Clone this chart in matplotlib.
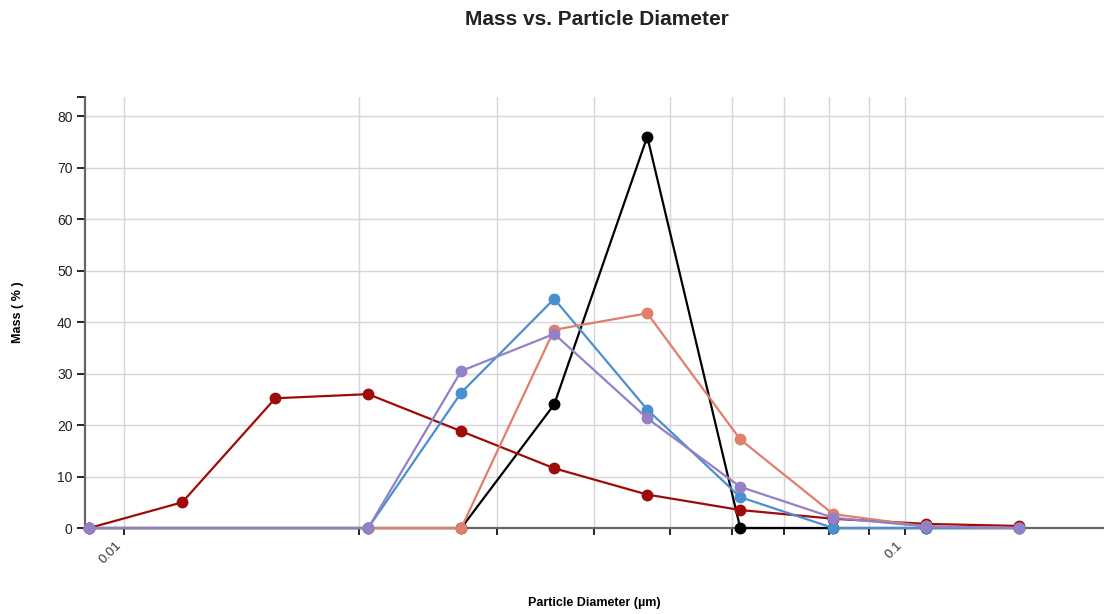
import numpy as np
import matplotlib
matplotlib.use('Agg')
import matplotlib.pyplot as plt
from matplotlib.ticker import FixedLocator, NullLocator

plt.rcParams['font.family'] = ['Liberation Sans', 'DejaVu Sans']

# particle diameter bins (um)
diam = [0.00902, 0.01187, 0.01562, 0.02054, 0.02703, 0.03556,
        0.04679, 0.06156, 0.08100, 0.1066, 0.1402]

# None = no sample in that bin (line joins the neighbours)
black = [0, None, None, 0, 0, 24.0, 76.0, 0, 0, 0, 0]
red = [0, 5.0, 25.2, 26.0, 18.8, 11.6, 6.5, 3.5, 1.8, 0.8, 0.4]
blue = [0, None, None, 0, 26.3, 44.5, 23.0, 6.0, 0, 0, 0]
salmon = [0, None, None, 0, 0, 38.5, 41.7, 17.2, 2.7, 0.3, 0]
purple = [0, None, None, 0, 30.5, 37.7, 21.3, 8.0, 2.0, 0.3, 0]

series = [(black, '#000000'), (red, '#9e0b0b'), (blue, '#4a8fd0'),
          (salmon, '#e07f6b'), (purple, '#9381c8')]

xticks = [0.01, 0.02, 0.03, 0.04, 0.05, 0.06, 0.07, 0.08, 0.09, 0.1]
xticklabels = ['0.01', '', '', '', '', '', '', '', '', '0.1']
yticks = [0, 10, 20, 30, 40, 50, 60, 70, 80]

fig = plt.figure(figsize=(11.04, 6.14), dpi=100)
ax = fig.add_axes([0.077, 0.140, 0.923, 0.702])

for vals, c in series:
    xs = [d for d, v in zip(diam, vals) if v is not None]
    ys = [v for v in vals if v is not None]
    ax.plot(xs, ys, color=c, lw=1.6, marker='o', ms=7.5, clip_on=False, zorder=3)

ax.set_xscale('log')
ax.set_xlim(0.00891, 0.18)
ax.set_ylim(0, 83.7)

ax.xaxis.set_major_locator(FixedLocator(xticks))
ax.xaxis.set_minor_locator(NullLocator())
ax.set_xticklabels(xticklabels, rotation=45, ha='right', va='top', fontsize=9.5, color='#333333')
ax.set_yticks(yticks)
ax.set_yticklabels([str(v) for v in yticks], fontsize=10, color='#222222')
ax.set_yticks([83.7], minor=True)
ax.tick_params(axis='y', which='minor', length=6, width=1.2, color='black', labelleft=False)

ax.tick_params(axis='x', length=5, width=1.2, color='black', pad=3)
ax.tick_params(axis='y', which='major', length=6, width=1.2, color='black', pad=3)

ax.grid(True, color='#d6d6d6', lw=1)
ax.set_axisbelow(True)
for s in ['top', 'right']:
    ax.spines[s].set_visible(False)
ax.spines['left'].set_color('#666666')
ax.spines['left'].set_linewidth(1.6)
ax.spines['bottom'].set_color('#666666')
ax.spines['bottom'].set_linewidth(1.6)

ax.set_ylabel('Mass ( % )', fontsize=9, fontweight='bold', va='center')
ax.yaxis.set_label_coords(-0.066, 0.5)
ax.set_xlabel('Particle Diameter (µm)', fontsize=9, fontweight='bold', va='center')
ax.xaxis.set_label_coords(0.5, -0.174)
fig.text(0.541, 0.969, 'Mass vs. Particle Diameter', ha='center', va='center',
         fontsize=15, fontweight='bold', color='#222222')

fig.savefig('out.png', dpi=100)
